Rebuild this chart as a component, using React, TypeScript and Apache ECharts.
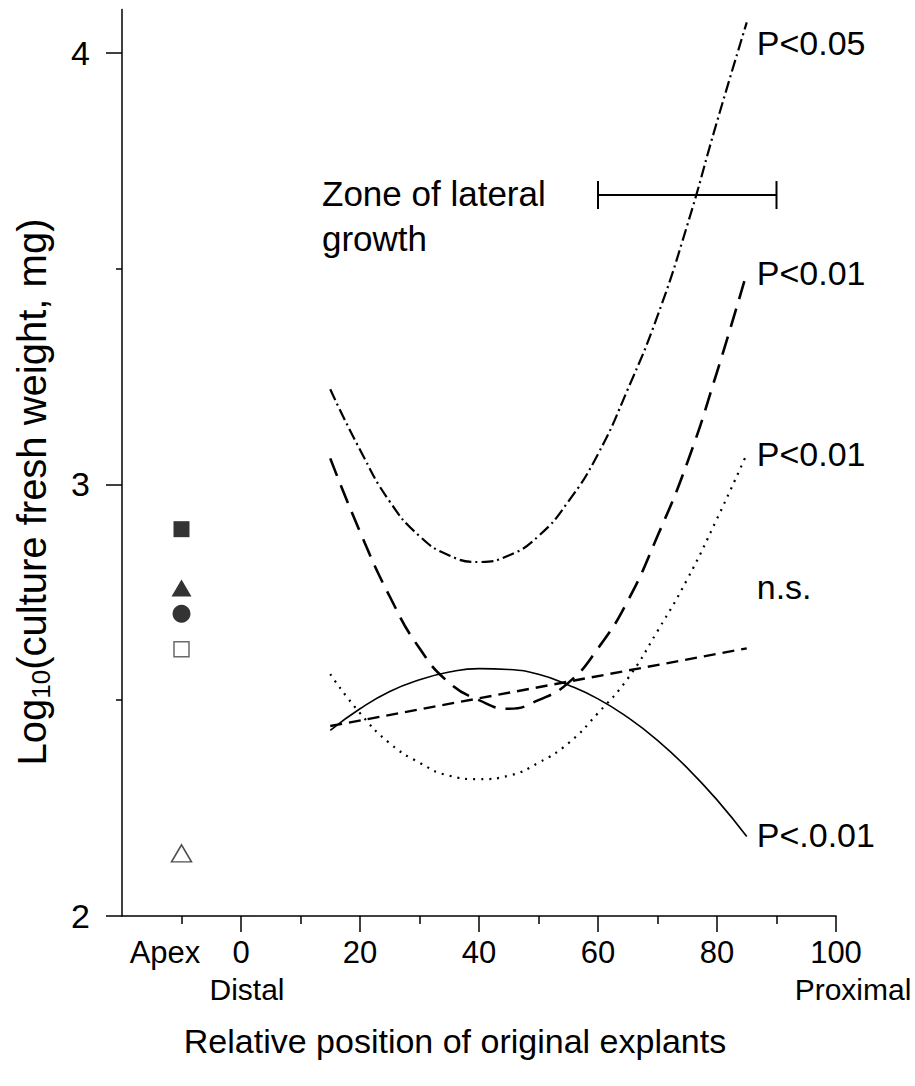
import React, { useEffect, useRef } from "react";
import * as echarts from "echarts";

// ---- data ----
const positions = [15, 20, 25, 30, 35, 40, 45, 50, 55, 60, 65, 70, 75, 80, 85];
const curveDashDot = [3.22, 3.08, 2.96, 2.88, 2.835, 2.82, 2.835, 2.88, 2.96, 3.07, 3.22, 3.39, 3.6, 3.84, 4.07];
const curveLongDash = [3.06, 2.89, 2.74, 2.62, 2.54, 2.5, 2.48, 2.5, 2.54, 2.62, 2.73, 2.88, 3.05, 3.26, 3.49];
const curveDotted = [2.56, 2.47, 2.4, 2.355, 2.325, 2.317, 2.325, 2.355, 2.4, 2.47, 2.55, 2.66, 2.78, 2.92, 3.07];
const curveSolid = [2.43, 2.48, 2.52, 2.547, 2.565, 2.573, 2.571, 2.56, 2.535, 2.503, 2.46, 2.407, 2.343, 2.269, 2.184];
const nsPositions = [15, 85];
const curveNs = [2.44, 2.62];
const curveLabels = ["P<0.05", "P<0.01", "P<0.01", "P<.0.01", "n.s."];
const apexPosition = -10;
const apexValues = [2.896, 2.76, 2.7, 2.618, 2.145];
const zoneRange = [60, 90];
const zoneLevel = 3.67;
const xTickValues = [0, 20, 40, 60, 80, 100];
const xMinorTickValues = [-10, 10, 30, 50, 70, 90];
const yTickValues = [2, 3, 4];
const yMinorTickValues = [2.5, 3.5];
const zoneText = "Zone of lateral\ngrowth";
const apexText = "Apex";
const distalText = "Distal";
const proximalText = "Proximal";
const xTitle = "Relative position of original explants";

const FONT = "'Liberation Sans', Arial, Helvetica, sans-serif";

function pairs(xs: number[], ys: number[]) {
  return xs.map((x, i) => [x, ys[i]]);
}

export default function App() {
  const ref = useRef<HTMLDivElement>(null);
  useEffect(() => {
    if (!ref.current) return;
    const chart = echarts.init(ref.current, null, { renderer: "svg" });
    const endLabel = (text: string, dy: number) => ({
      show: true,
      formatter: text,
      color: "#000",
      fontSize: 34,
      fontFamily: FONT,
      distance: 10,
      offset: [0, dy],
    });
    const lineBase = {
      type: "line",
      showSymbol: false,
      smooth: 0.5,
      silent: true,
      clip: false,
      z: 3,
    };
    const axisCommon = {
      type: "value",
      splitLine: { show: false },
      axisLine: { show: true, onZero: false, lineStyle: { color: "#000", width: 1.5 } },
    };
    const option: any = {
      animation: false,
      backgroundColor: "#fff",
      grid: { left: 122, right: 79, top: 9.4, bottom: 170, containLabel: false },
      xAxis: [
        {
          ...axisCommon,
          min: -20,
          max: 100,
          interval: 20,
          axisTick: { show: true, length: 16, customValues: xTickValues, lineStyle: { color: "#000", width: 1.5 } },
          axisLabel: { customValues: xTickValues, color: "#000", fontSize: 31, fontFamily: FONT, margin: 21 },
        },
        {
          ...axisCommon,
          position: "bottom",
          min: -20,
          max: 100,
          interval: 10,
          axisLine: { show: false, onZero: false },
          axisTick: { show: true, length: 8, customValues: xMinorTickValues, lineStyle: { color: "#000", width: 1.5 } },
          axisLabel: { show: false },
        },
      ],
      yAxis: [
        {
          ...axisCommon,
          min: 2,
          max: 4.1,
          interval: 1,
          axisTick: { show: true, length: 16, customValues: yTickValues, lineStyle: { color: "#000", width: 1.5 } },
          axisLabel: { customValues: yTickValues, color: "#000", fontSize: 34, fontFamily: FONT, margin: 32 },
        },
        {
          ...axisCommon,
          position: "left",
          min: 2,
          max: 4.1,
          interval: 0.5,
          axisLine: { show: false, onZero: false },
          axisTick: { show: true, length: 6, customValues: yMinorTickValues, lineStyle: { color: "#000", width: 1.5 } },
          axisLabel: { show: false },
        },
      ],
      series: [
        {
          ...lineBase,
          name: curveLabels[0],
          data: pairs(positions, curveDashDot),
          lineStyle: { color: "#000", width: 2.2, type: [12, 4, 2, 4] },
          endLabel: endLabel(curveLabels[0], 21),
        },
        {
          ...lineBase,
          name: curveLabels[1],
          data: pairs(positions, curveLongDash),
          lineStyle: { color: "#000", width: 2.6, type: [19, 10] },
          endLabel: endLabel(curveLabels[1], 0),
        },
        {
          ...lineBase,
          name: curveLabels[2] + " ",
          data: pairs(positions, curveDotted),
          lineStyle: { color: "#000", width: 2.2, type: [2, 6] },
          endLabel: endLabel(curveLabels[2], 0),
        },
        {
          ...lineBase,
          name: curveLabels[3],
          data: pairs(positions, curveSolid),
          lineStyle: { color: "#000", width: 1.6, type: "solid" },
          endLabel: endLabel(curveLabels[3], -2),
        },
        {
          ...lineBase,
          name: curveLabels[4],
          smooth: false,
          data: pairs(nsPositions, curveNs),
          lineStyle: { color: "#000", width: 2.4, type: [12, 7] },
          endLabel: endLabel(curveLabels[4], -61),
        },
        {
          type: "scatter",
          silent: true,
          z: 4,
          data: [
            { value: [apexPosition, apexValues[0]], symbol: "rect", symbolSize: 16, itemStyle: { color: "#000" } },
            { value: [apexPosition, apexValues[1]], symbol: "triangle", symbolSize: [20, 17], itemStyle: { color: "#000" } },
            { value: [apexPosition, apexValues[2]], symbol: "circle", symbolSize: 18, itemStyle: { color: "#000" } },
            {
              value: [apexPosition, apexValues[3]],
              symbol: "rect",
              symbolSize: 15,
              itemStyle: { color: "#fff", borderColor: "#444", borderWidth: 1.5 },
            },
            {
              value: [apexPosition, apexValues[4]],
              symbol: "triangle",
              symbolSize: [20, 17],
              itemStyle: { color: "#fff", borderColor: "#222", borderWidth: 1.5 },
            },
          ],
        },
        {
          type: "custom",
          silent: true,
          z: 3,
          data: [[zoneRange[0], zoneRange[1], zoneLevel]],
          encode: { x: [0, 1], y: 2 },
          renderItem: (params: any, api: any) => {
            const p1 = api.coord([api.value(0), api.value(2)]);
            const p2 = api.coord([api.value(1), api.value(2)]);
            const h = 14;
            const st = { stroke: "#000", lineWidth: 2 };
            return {
              type: "group",
              children: [
                { type: "line", shape: { x1: p1[0], y1: p1[1], x2: p2[0], y2: p2[1] }, style: st },
                { type: "line", shape: { x1: p1[0], y1: p1[1] - h, x2: p1[0], y2: p1[1] + h }, style: st },
                { type: "line", shape: { x1: p2[0], y1: p2[1] - h, x2: p2[0], y2: p2[1] + h }, style: st },
              ],
            };
          },
        },
      ],
      graphic: [
        {
          type: "text",
          left: 322,
          top: 171,
          style: { text: zoneText, fill: "#000", font: `35px ${FONT}`, lineHeight: 45 },
        },
        {
          type: "text",
          x: 165,
          y: 952,
          style: { text: apexText, fill: "#000", font: `31px ${FONT}`, align: "center", verticalAlign: "middle" },
        },
        {
          type: "text",
          x: 247,
          y: 989,
          style: { text: distalText, fill: "#000", font: `30px ${FONT}`, align: "center", verticalAlign: "middle" },
        },
        {
          type: "text",
          x: 853,
          y: 989,
          style: { text: proximalText, fill: "#000", font: `30px ${FONT}`, align: "center", verticalAlign: "middle" },
        },
        {
          type: "text",
          x: 455,
          y: 1041,
          style: { text: xTitle, fill: "#000", font: `34px ${FONT}`, align: "center", verticalAlign: "middle" },
        },
        {
          type: "text",
          x: 32,
          y: 492,
          rotation: Math.PI / 2,
          style: {
            text: "{a|Log}{s|10}{a|(culture fresh weight, mg)}",
            align: "center",
            verticalAlign: "middle",
            rich: {
              a: { fontSize: 40, fontFamily: FONT, fill: "#000", color: "#000", lineHeight: 44, verticalAlign: "middle" },
              s: { fontSize: 26, fontFamily: FONT, fill: "#000", color: "#000", lineHeight: 24, verticalAlign: "bottom" },
            },
          },
        },
      ],
    };
    chart.setOption(option);
    return () => chart.dispose();
  }, []);
  return (
    <div
      ref={ref}
      style={{ position: "absolute", left: 0, top: 0, width: 915, height: 1086, background: "#fff" }}
    />
  );
}
